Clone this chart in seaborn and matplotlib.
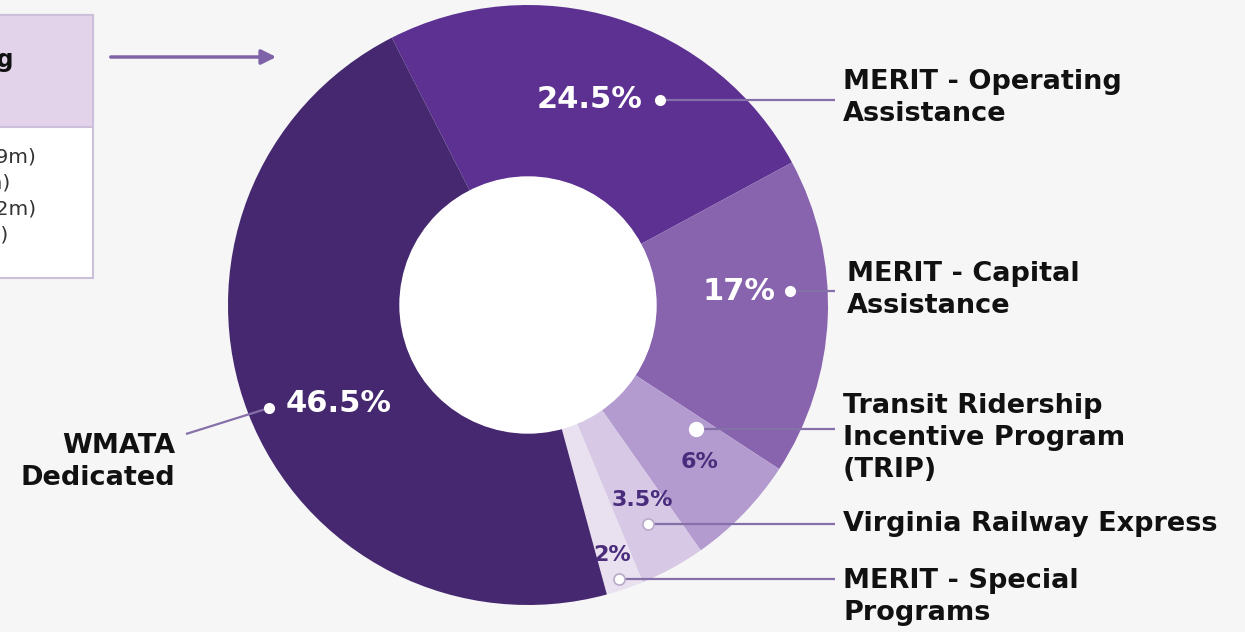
import matplotlib
matplotlib.use("Agg")
import matplotlib.pyplot as plt
import seaborn as sns
from matplotlib.patches import Circle, Rectangle, FancyArrowPatch

# data (clockwise from the top)
categories = ["MERIT - Operating\nAssistance", "MERIT - Capital\nAssistance",
              "Transit Ridership\nIncentive Program\n(TRIP)", "Virginia Railway Express",
              "MERIT - Special\nPrograms", "WMATA\nDedicated"]
shares = [24.5, 17, 6, 3.5, 2, 46.5]
pct_labels = ["24.5%", "17%", "6%", "3.5%", "2%", "46.5%"]
colors = ["#5c3192", "#8864ae", "#b39bd0", "#d7c8e5", "#e9e1f0", "#45286f"]

W, H = 1245, 632
bg = "#f6f6f6"


def px(x, y):
    # pixel coords (top-left origin) -> axes data coords
    return x, H - y


sns.set_theme(style="white")
plt.rcParams['font.family'] = ['DejaVu Sans']

fig = plt.figure(figsize=(12.45, 6.32), dpi=100, facecolor=bg)
ax = fig.add_axes([0, 0, 1, 1])

cx, cy, R, r_hole = 528, 305, 300, 128
wedges, _ = ax.pie(shares, colors=sns.color_palette(colors), startangle=117, counterclock=False,
                   radius=R, center=px(cx, cy), wedgeprops=dict(width=R - r_hole, linewidth=0))
ax.add_patch(Circle(px(cx, cy), r_hole, color='white', zorder=3))
ax.set_xlim(0, W)
ax.set_ylim(0, H)
ax.set_aspect('equal')
ax.axis('off')

line_col = "#8670aa"
# label layout: (dot, pct text pos, pct color, pct size, dot style, line end, label pos, label ha)
layout = [
    ((660, 100), (590, 99), 'white', 22, 'solid', (835, 100), (843, 98), 'left'),
    ((790, 291), (739, 291), 'white', 22, 'solid', (835, 291), (847, 290), 'left'),
    ((696, 429), (700, 462), '#4a2c7c', 16, 'big', (835, 429), (843, 438), 'left'),
    ((648, 524), (642, 500), '#4a2c7c', 16, 'ring', (835, 524), (843, 524), 'left'),
    ((619, 579), (612, 555), '#4a2c7c', 16, 'ring', (835, 579), (843, 597), 'left'),
    ((269, 408), (339, 404), 'white', 22, 'solid', (186, 434), (175, 462), 'right'),
]

for cat, pct, (dot, tpos, tcol, tsize, dstyle, lend, lpos, ha) in zip(categories, pct_labels, layout):
    ax.plot([px(*dot)[0], px(*lend)[0]], [px(*dot)[1], px(*lend)[1]], color=line_col, lw=1.6,
            zorder=4, solid_capstyle='butt')
    if dstyle == 'solid':
        ax.plot(*px(*dot), 'o', ms=7, color='white', mec='white', zorder=5)
    elif dstyle == 'big':
        ax.plot(*px(*dot), 'o', ms=10, color='white', mec='white', zorder=5)
    else:
        ax.plot(*px(*dot), 'o', ms=8, color='white', mec='#b8aac8', mew=1.2, zorder=5)
    ax.text(*px(*tpos), pct, color=tcol, fontsize=tsize, fontweight='bold', ha='center',
            va='center', zorder=6)
    ax.text(*px(*lpos), cat, color='#111111', fontsize=19.5, fontweight='bold', ha=ha,
            va='center', linespacing=1.3, zorder=6)

# partial info box at the left edge
ax.add_patch(Rectangle(px(-60, 278), 153, 263, facecolor='white', edgecolor='#cbbfd9', lw=1.5, zorder=2))
ax.add_patch(Rectangle(px(-60, 127), 153, 112, facecolor='#e2d3ea', edgecolor='#cbbfd9', lw=1.5, zorder=2))
ax.text(*px(14, 60), "Funding", fontsize=17, fontweight='bold', color='#111111', ha='right',
        va='center', zorder=3)
box_lines = [("($63.9m)", 36, 158), ("($9.4m)", 11, 183), ("($45.2m)", 36, 210), ("($7.1m)", 9, 235)]
for txt, x, y in box_lines:
    ax.text(*px(x, y), txt, fontsize=14.5, color='#333333', ha='right', va='center', zorder=3)

ax.add_patch(FancyArrowPatch(px(108, 57), px(279, 57), arrowstyle='-|>', mutation_scale=22,
                             color='#7d62a8', lw=2.5, zorder=3))

fig.savefig("out.png", dpi=100, facecolor=bg)
